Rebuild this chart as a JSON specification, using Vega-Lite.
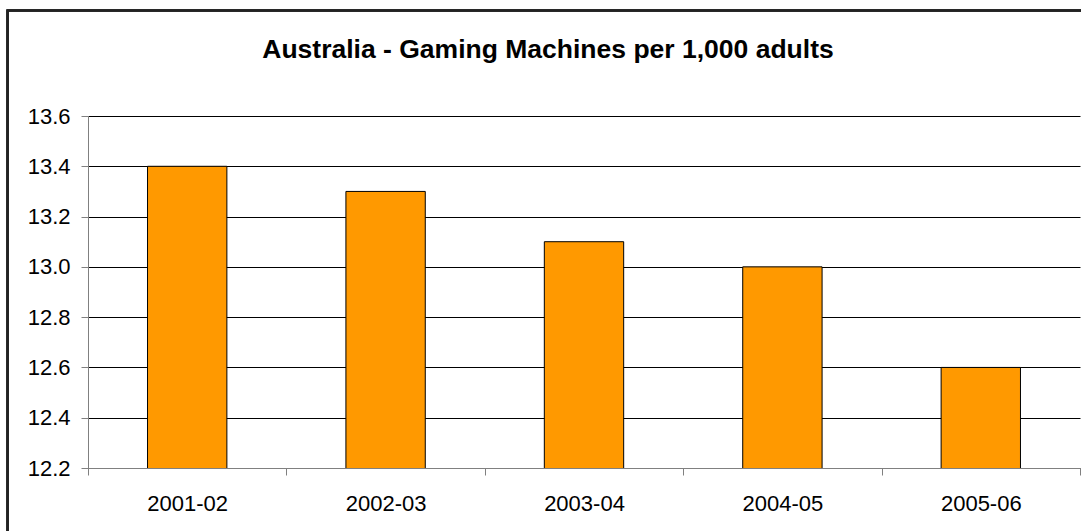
{
  "$schema": "https://vega.github.io/schema/vega-lite/v6.json",
  "autosize": {"type": "none"},
  "width": 992,
  "height": 352,
  "padding": {"left": 88, "top": 116, "right": 1, "bottom": 63},
  "background": "white",
  "title": {
    "text": "Australia - Gaming Machines per 1,000 adults",
    "font": "Liberation Sans",
    "fontSize": 26.5,
    "fontWeight": "bold",
    "color": "#000000",
    "anchor": "middle",
    "baseline": "alphabetic",
    "dx": -36,
    "offset": -75
  },
  "data": {
    "values": [
      {"year": "2001-02", "machines": 13.4},
      {"year": "2002-03", "machines": 13.3},
      {"year": "2003-04", "machines": 13.1},
      {"year": "2004-05", "machines": 13.0},
      {"year": "2005-06", "machines": 12.6}
    ]
  },
  "layer": [
    {
      "mark": {"type": "rect", "fill": null, "stroke": "#222222", "strokeWidth": 2, "clip": false},
      "encoding": {
        "x": {"datum": -0.0811, "type": "quantitative", "scale": {"domain": [0, 1], "nice": false, "zero": false}, "axis": null},
        "x2": {"datum": 1.3},
        "y": {"datum": 1.2997, "type": "quantitative", "scale": {"domain": [0, 1], "nice": false, "zero": false}, "axis": null},
        "y2": {"datum": -0.5}
      }
    },
    {
      "mark": {"type": "bar", "color": "#FF9900", "stroke": "#000000", "strokeWidth": 1, "clip": true, "width": {"band": 0.4}},
      "encoding": {
        "x": {
          "field": "year",
          "type": "nominal",
          "sort": null,
          "scale": {"paddingInner": 0, "paddingOuter": 0},
          "axis": {
            "title": null,
            "ticks": true,
            "tickBand": "extent",
            "labelAngle": 0,
            "labelFont": "Liberation Sans",
            "labelFontSize": 22,
            "labelColor": "#000000",
            "labelPadding": 18,
            "tickSize": 7,
            "tickColor": "#808080",
            "tickWidth": 1,
            "domainColor": "#808080",
            "grid": false
          }
        },
        "y": {
          "field": "machines",
          "type": "quantitative",
          "scale": {"domain": [12.2, 13.6], "nice": false, "zero": false},
          "axis": {
            "title": null,
            "values": [12.2, 12.4, 12.6, 12.8, 13.0, 13.2, 13.4, 13.6],
            "format": ".1f",
            "labelFont": "Liberation Sans",
            "labelFontSize": 22,
            "labelColor": "#000000",
            "labelPadding": 11,
            "tickSize": 7,
            "tickColor": "#808080",
            "domainColor": "#808080",
            "grid": true,
            "gridColor": "#000000",
            "gridOpacity": 1,
            "gridWidth": 1
          }
        }
      }
    }
  ],
  "resolve": {"scale": {"x": "independent", "y": "independent"}},
  "config": {"view": {"stroke": null}}
}
